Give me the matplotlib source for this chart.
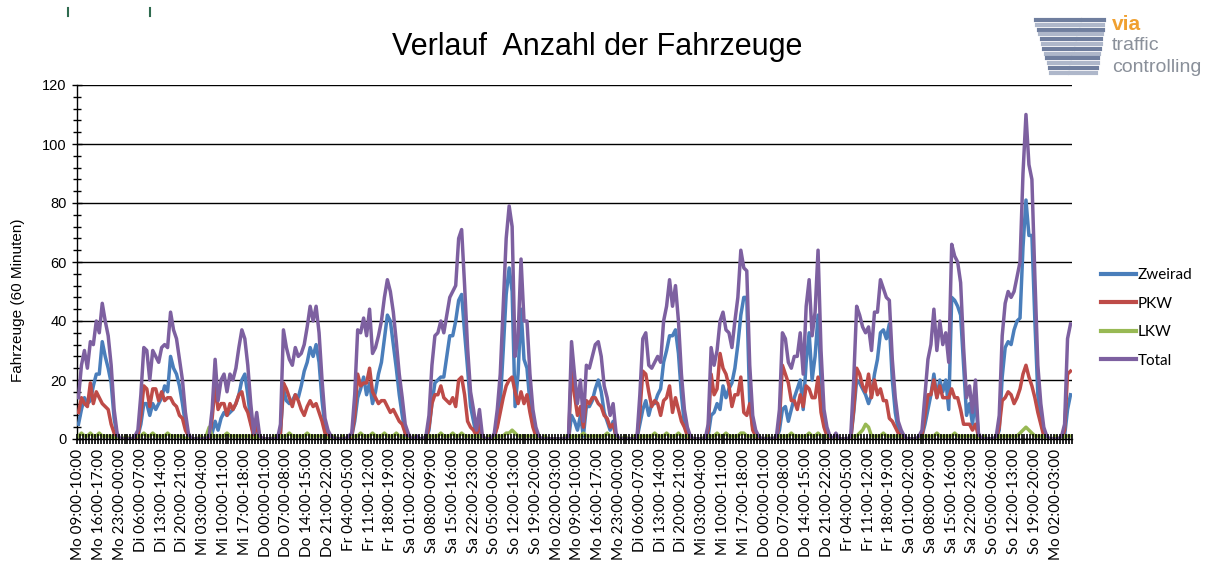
import numpy as np
import matplotlib
matplotlib.use("Agg")
import matplotlib.pyplot as plt
from matplotlib.lines import Line2D

plt.rcParams["font.family"] = ["Liberation Sans", "DejaVu Sans"]

# Stundenwerte ab Mo 09:00, eine Zeile je Tag
ZWEIRAD = [
    5, 10, 14, 12, 13, 18, 22, 22, 33, 28, 24, 19, 7, 1, 0,
    0, 0, 0, 0, 0, 1, 5, 12, 12, 8, 12, 10, 12, 14, 18, 16, 28, 24, 22, 18, 12, 5, 1, 0,
    0, 0, 0, 0, 0, 0, 2, 6, 3, 7, 9, 8, 9, 10, 12, 15, 20, 22, 15, 6, 1, 3, 0, 0,
    0, 0, 0, 0, 0, 2, 17, 13, 12, 13, 15, 14, 18, 23, 26, 31, 28, 32, 26, 13, 4, 1, 0, 0,
    0, 0, 0, 0, 0, 1, 6, 14, 17, 21, 15, 19, 12, 16, 22, 26, 34, 42, 40, 32, 24, 15, 8, 2, 0,
    0, 0, 0, 0, 0, 0, 3, 12, 19, 20, 21, 21, 28, 35, 35, 40, 47, 49, 36, 24, 11, 6, 1, 3,
    0, 0, 0, 0, 0, 5, 12, 30, 49, 58, 50, 11, 22, 44, 27, 24, 12, 5, 2, 0, 0, 0, 0, 0,
    0, 0, 0, 0, 0, 0, 8, 6, 3, 8, 1, 11, 11, 13, 17, 20, 16, 9, 6, 3, 6, 0, 0, 0, 0,
    0, 0, 0, 0, 5, 10, 13, 8, 12, 12, 15, 17, 26, 30, 35, 35, 37, 29, 15, 5, 2, 0, 0, 0,
    0, 0, 0, 1, 8, 9, 12, 10, 18, 14, 17, 19, 24, 32, 42, 48, 48, 12, 4, 1, 0, 0, 0, 0,
    0, 0, 0, 3, 10, 11, 6, 10, 14, 17, 20, 10, 26, 36, 20, 28, 42, 20, 5, 2, 0, 0, 1, 0,
    0, 0, 0, 0, 9, 20, 19, 17, 15, 12, 15, 22, 27, 36, 37, 34, 39, 20, 9, 3, 1, 0, 0, 0, 0,
    0, 0, 1, 5, 10, 15, 22, 14, 20, 16, 20, 10, 48, 47, 45, 42, 25, 8, 12, 5, 14, 1, 0, 0,
    0, 0, 0, 0, 3, 21, 31, 33, 32, 37, 40, 41, 65, 81, 69, 69, 40, 15, 6, 2, 0, 0, 0, 0,
    0, 0, 1, 10, 15,
]

PKW = [
    9, 14, 12, 11, 19, 12, 16, 14, 12, 11, 10, 5, 2, 0, 0,
    0, 0, 0, 0, 0, 1, 8, 18, 17, 11, 17, 17, 13, 16, 13, 14, 14, 12, 11, 8, 7, 3, 1, 0,
    0, 0, 0, 0, 0, 0, 7, 18, 10, 12, 12, 8, 12, 10, 12, 15, 16, 11, 9, 5, 1, 5, 1, 0,
    0, 0, 0, 0, 0, 2, 19, 17, 14, 11, 15, 13, 10, 8, 11, 13, 11, 12, 9, 6, 2, 1, 0, 0,
    0, 0, 0, 0, 0, 1, 8, 22, 18, 19, 19, 24, 16, 14, 12, 13, 13, 11, 9, 10, 8, 6, 5, 2, 1,
    0, 0, 0, 0, 0, 0, 4, 12, 15, 15, 18, 14, 13, 12, 14, 11, 20, 21, 15, 6, 4, 3, 1, 6,
    0, 0, 0, 0, 1, 4, 9, 14, 18, 20, 21, 16, 12, 16, 12, 15, 9, 4, 1, 0, 0, 0, 0, 0,
    0, 0, 0, 0, 0, 0, 24, 15, 8, 11, 4, 13, 12, 14, 14, 12, 11, 8, 7, 4, 5, 1, 0, 0, 0,
    0, 0, 0, 0, 9, 23, 22, 16, 11, 13, 12, 8, 13, 14, 18, 9, 14, 10, 6, 4, 1, 0, 0, 0,
    0, 0, 0, 3, 22, 15, 17, 29, 24, 22, 18, 11, 15, 15, 21, 9, 8, 12, 3, 1, 0, 0, 0, 0,
    0, 0, 0, 6, 25, 22, 19, 13, 13, 10, 15, 11, 18, 17, 14, 14, 21, 9, 4, 1, 0, 0, 0, 0,
    0, 0, 0, 0, 10, 24, 22, 18, 16, 22, 14, 20, 15, 17, 13, 13, 7, 6, 4, 2, 1, 0, 0, 0, 0,
    0, 0, 1, 8, 15, 15, 20, 14, 18, 14, 14, 14, 17, 14, 14, 10, 5, 5, 5, 3, 5, 1, 0, 0,
    0, 0, 0, 0, 4, 13, 14, 16, 15, 12, 14, 17, 22, 25, 21, 18, 14, 9, 5, 1, 0, 0, 0, 0,
    0, 0, 3, 22, 23,
]

LKW = [
    1, 2, 1, 1, 2, 1, 1, 2, 1, 1, 1, 1, 0, 1, 0,
    0, 1, 0, 0, 1, 1, 1, 2, 1, 1, 2, 1, 1, 1, 1, 2, 1, 1, 1, 1, 1, 0, 1, 0,
    0, 0, 1, 0, 1, 4, 1, 1, 1, 1, 1, 2, 1, 1, 1, 1, 1, 1, 1, 1, 0, 1, 0, 0,
    0, 0, 0, 1, 0, 1, 1, 1, 2, 1, 1, 1, 1, 1, 2, 1, 1, 1, 1, 1, 1, 0, 0, 1,
    0, 0, 1, 0, 1, 1, 1, 1, 2, 1, 1, 1, 2, 1, 1, 1, 2, 1, 1, 1, 2, 1, 1, 0, 0,
    0, 1, 0, 0, 0, 1, 1, 1, 1, 1, 2, 1, 1, 1, 2, 1, 1, 2, 1, 1, 1, 1, 1, 1,
    0, 0, 1, 0, 0, 1, 1, 1, 2, 2, 3, 2, 1, 1, 1, 1, 1, 1, 1, 0, 0, 1, 0, 0,
    0, 0, 0, 0, 1, 0, 1, 1, 1, 1, 2, 1, 1, 1, 1, 1, 1, 1, 2, 1, 1, 1, 0, 0, 1,
    0, 0, 1, 0, 1, 1, 1, 1, 1, 2, 1, 1, 1, 2, 1, 1, 1, 2, 1, 1, 1, 1, 0, 0,
    0, 0, 1, 1, 1, 1, 2, 1, 1, 2, 1, 1, 1, 1, 2, 2, 1, 1, 1, 1, 1, 0, 0, 1,
    0, 0, 1, 1, 1, 1, 1, 2, 1, 1, 1, 1, 1, 2, 1, 1, 2, 1, 1, 1, 1, 0, 1, 0,
    0, 0, 0, 1, 1, 1, 2, 3, 5, 4, 1, 1, 1, 1, 2, 1, 1, 1, 1, 1, 1, 1, 0, 0, 0,
    0, 0, 1, 1, 1, 1, 1, 2, 1, 1, 1, 1, 1, 2, 1, 1, 1, 1, 1, 1, 1, 0, 0, 1,
    0, 0, 0, 0, 1, 1, 1, 1, 1, 1, 1, 2, 3, 4, 3, 2, 1, 1, 1, 1, 0, 0, 0, 1,
    0, 0, 1, 1, 1,
]

TOTAL = [
    14, 25, 30, 24, 33, 32, 40, 36, 46, 40, 35, 25, 10, 2, 0,
    0, 0, 0, 0, 1, 3, 15, 31, 30, 20, 30, 28, 26, 31, 32, 31, 43, 37, 34, 27, 20, 9, 2, 0,
    0, 0, 0, 0, 0, 1, 10, 27, 13, 20, 22, 16, 22, 20, 24, 31, 37, 34, 25, 12, 2, 9, 1, 0,
    0, 0, 0, 0, 0, 5, 37, 31, 27, 25, 31, 28, 29, 32, 38, 45, 40, 45, 36, 20, 7, 3, 1, 0,
    0, 0, 0, 0, 1, 2, 15, 37, 36, 41, 35, 44, 29, 31, 35, 40, 48, 54, 50, 43, 33, 22, 14, 5, 2,
    0, 0, 1, 0, 0, 1, 8, 25, 35, 36, 40, 36, 42, 48, 50, 52, 68, 71, 52, 31, 16, 10, 3, 10,
    1, 0, 0, 0, 2, 10, 22, 45, 68, 79, 72, 28, 35, 61, 40, 40, 22, 10, 4, 1, 0, 0, 0, 0,
    0, 0, 0, 0, 0, 1, 33, 22, 12, 20, 6, 25, 24, 28, 32, 33, 28, 18, 14, 8, 12, 2, 0, 0, 0,
    0, 0, 0, 0, 15, 34, 36, 25, 24, 26, 28, 26, 40, 45, 54, 45, 52, 40, 22, 10, 4, 1, 0, 0,
    0, 0, 0, 5, 31, 25, 30, 40, 43, 37, 36, 31, 40, 48, 64, 58, 57, 25, 8, 3, 1, 0, 0, 0,
    0, 0, 1, 10, 36, 34, 26, 24, 28, 28, 36, 22, 45, 54, 35, 43, 64, 30, 10, 4, 1, 0, 2, 0,
    0, 0, 0, 1, 20, 45, 42, 38, 36, 38, 30, 43, 43, 54, 51, 48, 47, 27, 14, 6, 3, 1, 0, 0, 0,
    0, 1, 3, 15, 27, 32, 44, 30, 40, 32, 36, 26, 66, 62, 60, 53, 31, 14, 18, 9, 20, 2, 0, 0,
    0, 0, 0, 1, 8, 35, 46, 50, 48, 50, 55, 60, 90, 110, 93, 88, 55, 25, 12, 4, 1, 0, 0, 0,
    0, 1, 5, 34, 39,
]

XLABELS = [
    "Mo 09:00-10:00", "Mo 16:00-17:00", "Mo 23:00-00:00", "Di 06:00-07:00",
    "Di 13:00-14:00", "Di 20:00-21:00", "Mi 03:00-04:00", "Mi 10:00-11:00",
    "Mi 17:00-18:00", "Do 00:00-01:00", "Do 07:00-08:00", "Do 14:00-15:00",
    "Do 21:00-22:00", "Fr 04:00-05:00", "Fr 11:00-12:00", "Fr 18:00-19:00",
    "Sa 01:00-02:00", "Sa 08:00-09:00", "Sa 15:00-16:00", "Sa 22:00-23:00",
    "So 05:00-06:00", "So 12:00-13:00", "So 19:00-20:00", "Mo 02:00-03:00",
    "Mo 09:00-10:00", "Mo 16:00-17:00", "Mo 23:00-00:00", "Di 06:00-07:00",
    "Di 13:00-14:00", "Di 20:00-21:00", "Mi 03:00-04:00", "Mi 10:00-11:00",
    "Mi 17:00-18:00", "Do 00:00-01:00", "Do 07:00-08:00", "Do 14:00-15:00",
    "Do 21:00-22:00", "Fr 04:00-05:00", "Fr 11:00-12:00", "Fr 18:00-19:00",
    "Sa 01:00-02:00", "Sa 08:00-09:00", "Sa 15:00-16:00", "Sa 22:00-23:00",
    "So 05:00-06:00", "So 12:00-13:00", "So 19:00-20:00", "Mo 02:00-03:00",
]

SERIES = [
    ("Zweirad", ZWEIRAD, "#4A7EBB"),
    ("PKW", PKW, "#BE4B48"),
    ("LKW", LKW, "#98B954"),
    ("Total", TOTAL, "#7D60A0"),
]

W, H = 1215, 563


def fx(px):
    return px / W


def fy(py):
    return 1 - py / H


n = len(TOTAL)

fig = plt.figure(figsize=(W / 100, H / 100), dpi=100)
ax = fig.add_axes([fx(77), fy(439), fx(1072) - fx(77), fy(85) - fy(439)])

for name, vals, col in SERIES:
    ax.plot(np.arange(len(vals)), vals, color=col, lw=2.5, label=name,
            solid_joinstyle="round", zorder=3)

ax.set_xlim(-0.5, n - 0.5)
ax.set_ylim(0, 120)
ax.set_yticks(np.arange(0, 121, 20))
ax.set_yticks(np.arange(0, 121, 4), minor=True)
ax.yaxis.grid(True, which="major", color="black", lw=1)
ax.tick_params(axis="y", which="major", direction="inout", length=7,
               width=1, labelsize=10.5, pad=4)
ax.tick_params(axis="y", which="minor", direction="inout", length=6, width=1)

ax.set_xticks(np.arange(0, 7 * len(XLABELS), 7))
ax.set_xticklabels(XLABELS, rotation=90, family="Lato", fontsize=11)
ax.set_xticks(np.arange(-0.5, n, 1), minor=True)
ax.tick_params(axis="x", which="major", length=0, pad=7)
ax.tick_params(axis="x", which="minor", direction="inout", length=7,
               width=1.2, color="black")
# Stundenstriche liegen im Original über den Linien
ax.xaxis.set_zorder(4)

for s in ["top", "right"]:
    ax.spines[s].set_visible(False)
for s in ["left", "bottom"]:
    ax.spines[s].set_color("black")
    ax.spines[s].set_linewidth(1)

fig.text(fx(597), fy(47), "Verlauf  Anzahl der Fahrzeuge", fontsize=22,
         ha="center", va="center")
fig.text(fx(18), fy(300), "Fahrzeuge (60 Minuten)", fontsize=11,
         rotation=90, ha="center", va="center")

handles = [Line2D([], [], color=c, lw=3) for _, _, c in SERIES]
fig.legend(handles, [s[0] for s in SERIES], loc="center left",
           bbox_to_anchor=(fx(1087), fy(318)), frameon=False,
           prop={"family": "Lato", "size": 11}, handlelength=2.3,
           handletextpad=0.1, labelspacing=0.95)

# Logo oben rechts
for k in range(12):
    py = 20 + k * 4.8
    t = (py - 20) / 55
    xa, xb = 1036 + 16 * t, 1080 - 14 * t
    xc, xd = xb + 3, 1104 - 8 * t
    col = "#6F7E9E" if k % 2 == 0 else "#AEB7CA"
    fig.add_artist(Line2D([fx(xa), fx(xb)], [fy(py), fy(py)], color=col, lw=3))
    fig.add_artist(Line2D([fx(xc), fx(xd)], [fy(py), fy(py)], color=col, lw=3))
fig.text(fx(1112), fy(25), "via", fontsize=15, fontweight="bold",
         color="#F0A030", ha="left", va="center")
fig.text(fx(1112), fy(46), "traffic", fontsize=14, color="#8A909A",
         ha="left", va="center")
fig.text(fx(1112), fy(67), "controlling", fontsize=14, color="#8A909A",
         ha="left", va="center")

# Reste der Tabelle oben links
for px in (68, 150):
    fig.add_artist(Line2D([fx(px), fx(px)], [fy(8), fy(16)], color="#2F6B4F", lw=1.5))

fig.savefig("out.png", dpi=100)
